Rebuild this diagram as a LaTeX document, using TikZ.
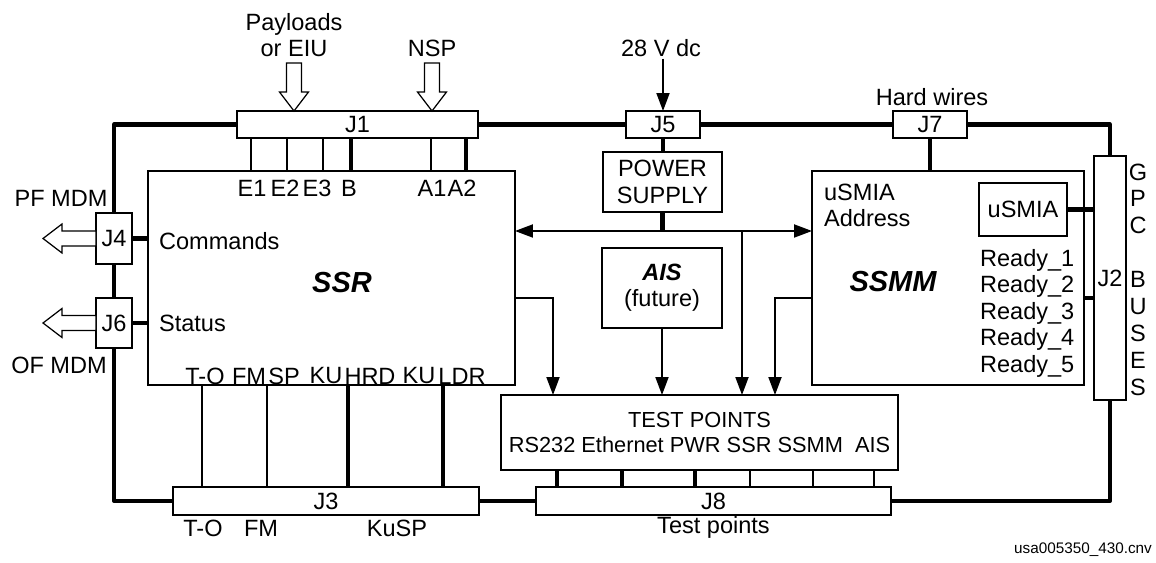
\documentclass[tikz,border=0pt]{standalone}
\usepackage{fontspec}
\setmainfont{Liberation Sans}
\usetikzlibrary{arrows.meta}

\begin{document}
\begin{tikzpicture}[x=0.02cm,y=-0.02cm,
  font=\fontsize{13.4}{15}\selectfont,
  >={Triangle[length=3.6mm,width=2.6mm]},
  box/.style={draw,line width=0.7pt,fill=white,inner sep=0pt,outer sep=0pt},
  conn/.style={box,minimum height=0.54cm},
  bus/.style={line width=2.3pt,line join=round},
  wire/.style={line width=1.1pt},
  lbl/.style={inner sep=1pt},
  big/.style={font=\fontsize{16.5}{18}\selectfont\bfseries\itshape},
  pics/fatarrow/.style={code={\draw[line width=0.7pt,fill=white]
    (-7.5,-#1) -- (-7.5,-19) -- (-14.5,-19) -- (0,0) -- (14.5,-19) -- (7.5,-19) -- (7.5,-#1) -- cycle;}}]
  \useasboundingbox (0,0) rectangle (1156,563);
  % connectors
  \node[conn,minimum width=4.82cm] (J1) at (357.5,124.5) {J1};
  \node[conn,minimum width=1.48cm] (J5) at (663,124.5) {J5};
  \node[conn,minimum width=1.48cm] (J7) at (930,124.5) {J7};
  \node[conn,minimum width=6.12cm,minimum height=0.56cm] (J3) at (326,501) {J3};
  \node[conn,minimum width=7.1cm,minimum height=0.56cm] (J8) at (713.5,501) {J8};
  \node[box,minimum width=0.72cm,minimum height=1.02cm] (J4) at (114,238.5) {J4};
  \node[box,minimum width=0.72cm,minimum height=1.0cm] (J6) at (114,323) {J6};
  \node[box,minimum width=0.64cm,minimum height=4.88cm] (J2) at (1110,278) {J2};
  % units
  \node[box,minimum width=7.34cm,minimum height=4.28cm] (ssr) at (331.5,278) {};
  \node[box,minimum width=5.44cm,minimum height=4.28cm] (ssmm) at (948,278) {};
  \node[box,minimum width=2.38cm,minimum height=1.2cm,align=center] (ps) at (662.5,182) {POWER\\SUPPLY};
  \node[box,minimum width=2.4cm,minimum height=1.6cm,align=center] (ais) at (662,288) {\textbf{\textit{AIS}}\\(future)};
  \node[box,minimum width=1.76cm,minimum height=1.06cm] (usmia) at (1023,209.5) {uSMIA};
  \node[box,minimum width=7.94cm,minimum height=1.5cm,align=center,font=\fontsize{12.4}{14.2}\selectfont] (tp) at (699.5,432.5) {TEST POINTS\\RS232 Ethernet PWR SSR SSMM\ \ AIS};
  \node[big] (ssrname) at (342,283) {SSR};
  \node[big] (ssmmname) at (893,282) {SSMM};
  % frame
  \coordinate (tl) at (114,124.5); \coordinate (tr) at (1110,124.5);
  \coordinate (bl) at (114,501); \coordinate (br) at (1110,501);
  \draw[bus] (J4.north) -- (tl) -- (J1.west);
  \draw[bus] (J1.east) -- (J5.west);
  \draw[bus] (J5.east) -- (J7.west);
  \draw[bus] (J7.east) -- (tr) -- (J2.north);
  \draw[bus] (J4.south) -- (J6.north);
  \draw[bus] (J6.south) -- (bl) -- (J3.west);
  \draw[bus] (J3.east) -- (J8.west);
  \draw[bus] (J8.east) -- (br) -- (J2.south);
  % top inputs
  \node[lbl,align=center] (pay) at (294,35) {Payloads\\or EIU};
  \node[lbl] (nsp) at (432,48) {NSP};
  \node[lbl] (v28) at (661,48) {28 V dc};
  \node[lbl] (hard) at (932,97) {Hard wires};
  \pic at (J1.north -| pay.south) {fatarrow=48};
  \pic at (J1.north -| nsp.south) {fatarrow=48};
  \draw[->,wire] (J5.north |- v28.south) -- (J5.north);
  % J1 to SSR
  \foreach \x in {251,287,323,431}
    \draw[wire] (J1.south -| \x,0) -- (ssr.north -| \x,0);
  \foreach \x in {351,466}
    \draw[bus] (J1.south -| \x,0) -- (ssr.north -| \x,0);
  \foreach \x/\t in {252/E1,285/E2,317/E3,349/B,432/A1,462/A2}
    \node[lbl] (pin\t) at (\x,188) {\t};
  % SSR to J3
  \foreach \x in {202,267}
    \draw[wire] (ssr.south -| \x,0) -- (J3.north -| \x,0);
  \foreach \x in {348,443}
    \draw[bus] (ssr.south -| \x,0) -- (J3.north -| \x,0);
  \foreach \x/\t [count=\i] in {205/T-O,249/FM,284/SP,326/KU,370/HRD,419/KU,462/LDR}
    \node[lbl] (out\i) at (\x,376) {\t};
  \foreach \x/\t [count=\i] in {203/T-O,261/FM,397/KuSP}
    \node[lbl] (jlbl\i) at (\x,528) {\t};
  % MDM side
  \draw[bus] (J4.east) -- (J4.east -| ssr.west);
  \draw[bus] (J6.east) -- (J6.east -| ssr.west);
  \node[lbl,anchor=west] (cmd) at (157,241) {Commands};
  \node[lbl,anchor=west] (stat) at (157,323) {Status};
  \pic[rotate=-90] at ([xshift=-1.06cm]J4.west) {fatarrow=53};
  \pic[rotate=-90] at ([xshift=-1.06cm]J6.west) {fatarrow=53};
  \node[lbl] (pfmdm) at (61,198) {PF MDM};
  \node[lbl] (ofmdm) at (59,365) {OF MDM};
  % power bus
  \coordinate (pbus) at (662.5,231);
  \coordinate (tap) at (742,231);
  \draw[bus] (J5.south) -- (J5.south |- ps.north);
  \draw[bus] (ps.south) -- (pbus);
  \draw[<->,wire] (ssr.east |- pbus) -- (ssmm.west |- pbus);
  \draw[->,wire] (tap) -- (tp.north -| tap);
  % test point feeds
  \draw[->,wire] (ssr.east |- 0,298) -| (tp.north -| 553,0);
  \draw[->,wire] (ssmm.west |- 0,298) -| (tp.north -| 775,0);
  \draw[->,wire] (ais.south) -- (tp.north -| ais.south);
  \foreach \x in {557,622,695}
    \draw[bus] (tp.south -| \x,0) -- (J8.north -| \x,0);
  \foreach \x in {750,813,874}
    \draw[wire] (tp.south -| \x,0) -- (J8.north -| \x,0);
  \node[lbl] (tplbl) at (713.5,527) {Test points};
  % SSMM side
  \draw[bus] (J7.south) -- (J7.south |- ssmm.north);
  \draw[bus] (usmia.east) -- (usmia.east -| J2.west);
  \draw[bus] (ssmm.east |- 0,298) -- (J2.west |- 0,298);
  \node[lbl,anchor=west,align=left] (addr) at (822,205.5) {uSMIA\\Address};
  \foreach \i in {1,...,5}
    \node[lbl,anchor=west] (rdy\i) at (978,233.5+26.5*\i) {Ready\_\i};
  \foreach \t/\i in {G/0,P/1,C/2,B/4,U/5,S/6,E/7,S/8}
    \node[lbl] (gpc\i) at (1138,172+26.9*\i) {\t};
  \node[lbl,anchor=east,font=\fontsize{8.7}{10}\selectfont] (fname) at (1154,550) {usa005350\_430.cnv};
\end{tikzpicture}
\end{document}
